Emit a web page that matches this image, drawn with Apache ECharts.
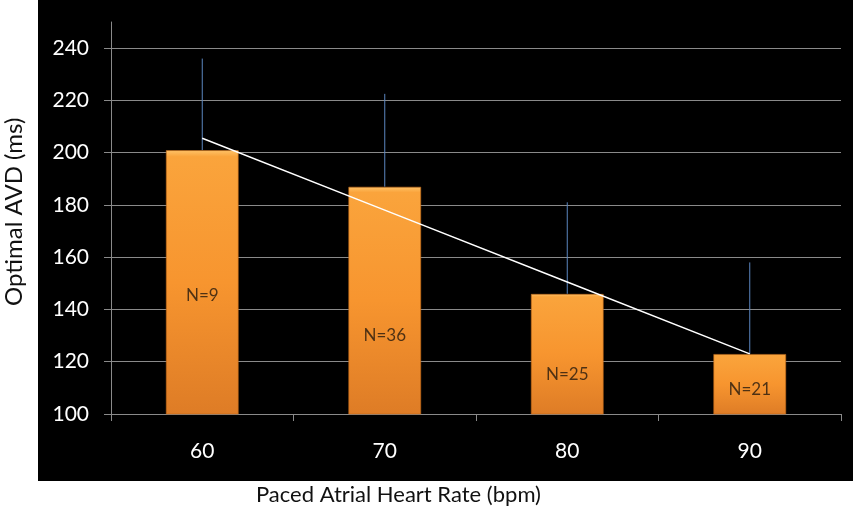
<!DOCTYPE html>
<html>
<head>
<meta charset="utf-8">
<script src="https://cdn.jsdelivr.net/npm/echarts@6/dist/echarts.min.js"></script>
<style>html,body{margin:0;padding:0;background:#fff}#c{width:853px;height:516px}</style>
</head>
<body>
<div id="c"></div>
<script>
const categories = ['60', '70', '80', '90'];
const meanAVD = [201, 187, 146, 123];
const upperSD = [236, 222.5, 181, 158];
const trendValues = [205.5, 178, 150.5, 123];
const sampleSizes = [9, 36, 25, 21];
const labelAnchors = [145.5, 130, 115, 109.5];
const yTicks = [100, 120, 140, 160, 180, 200, 220, 240];

const chart = echarts.init(document.getElementById('c'), null, {renderer: 'canvas'});
const FONT = 'Lato, "Open Sans", sans-serif';
const gridColors = yTicks.map(() => '#8a8a8a').concat(['rgba(0,0,0,0)']);

chart.setOption({
  backgroundColor: '#ffffff',
  animation: false,
  graphic: [
    {type: 'rect', z: -10, shape: {x: 38, y: 0, width: 815, height: 481}, style: {fill: '#000000'}},
    {type: 'text', left: 256, top: 484, style: {text: 'Paced Atrial Heart Rate (bpm)', fill: '#111', font: '22px ' + FONT}},
    {type: 'text', x: 2, y: 306, rotation: Math.PI / 2, style: {text: 'Optimal AVD (ms)', fill: '#111', font: '24px ' + FONT}}
  ],
  grid: {left: 111, right: 12, top: 22, bottom: 102, containLabel: false},
  xAxis: {
    type: 'category',
    data: categories,
    boundaryGap: true,
    axisLine: {show: true, lineStyle: {color: '#8a8a8a', width: 1}},
    axisTick: {show: true, length: 7, lineStyle: {color: '#8a8a8a'}},
    axisLabel: {color: '#ffffff', fontSize: 21, fontFamily: FONT, margin: 27},
    splitLine: {show: false}
  },
  yAxis: {
    type: 'value',
    min: 100,
    max: 250,
    interval: 20,
    axisLine: {show: true, lineStyle: {color: '#8a8a8a', width: 1}},
    axisTick: {show: true, length: 7, inside: false, lineStyle: {color: '#8a8a8a'}, customValues: yTicks},
    axisLabel: {color: '#ffffff', fontSize: 21, fontFamily: FONT, margin: 22, customValues: yTicks},
    splitLine: {show: true, lineStyle: {color: gridColors, width: 1}}
  },
  series: [
    {
      type: 'bar',
      data: meanAVD,
      barWidth: '40%',
      itemStyle: {
        color: new echarts.graphic.LinearGradient(0, 0, 0, 1, [
          {offset: 0, color: '#FFC46A'},
          {offset: 0.025, color: '#FAA43C'},
          {offset: 0.5, color: '#F7952F'},
          {offset: 1, color: '#DE7C26'}
        ]),
        borderColor: 'rgba(190,100,20,0.6)',
        borderWidth: 1
      },
      z: 2
    },
    {
      type: 'custom',
      data: upperSD.map((u, i) => [i, meanAVD[i], u]),
      renderItem: function (params, api) {
        const p0 = api.coord([api.value(0), api.value(1)]);
        const p1 = api.coord([api.value(0), api.value(2)]);
        return {type: 'line', shape: {x1: p0[0], y1: p0[1], x2: p1[0], y2: p1[1]}, style: {stroke: '#5B86C0', lineWidth: 1}};
      },
      z: 3
    },
    {
      type: 'line',
      data: trendValues,
      symbol: 'none',
      lineStyle: {color: '#ffffff', width: 1.5},
      z: 4
    },
    {
      type: 'scatter',
      data: labelAnchors.map((v, i) => [i, v]),
      symbolSize: 0,
      label: {
        show: true,
        position: 'inside',
        formatter: p => 'N=' + sampleSizes[p.dataIndex],
        color: '#24190e',
        fontSize: 17,
        fontFamily: FONT
      },
      z: 5
    }
  ]
});
</script>
</body>
</html>
